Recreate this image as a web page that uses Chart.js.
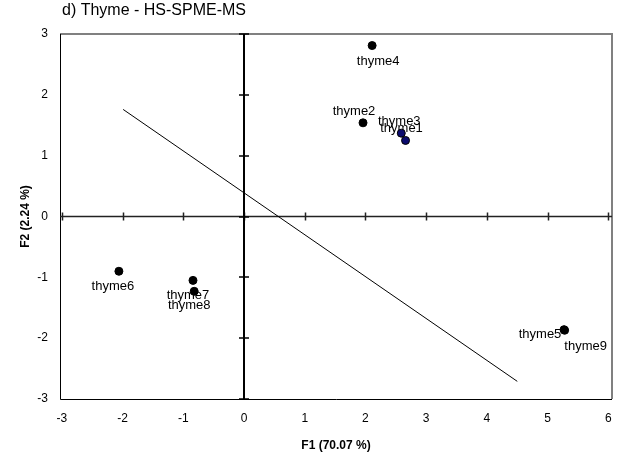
<!DOCTYPE html>
<html>
<head>
<meta charset="utf-8">
<title>Thyme - HS-SPME-MS</title>
<script src="https://cdn.jsdelivr.net/npm/chart.js@4.4.1/dist/chart.umd.min.js"></script>
<style>
  html, body { margin: 0; padding: 0; background: #fff; }
  #wrap { width: 618px; height: 462px; }
</style>
</head>
<body>
<div id="wrap"><canvas id="pca" width="618" height="462"></canvas></div>
<script>
// sample scores on the first two factors
var samples = ['thyme1', 'thyme2', 'thyme3', 'thyme4', 'thyme5', 'thyme6', 'thyme7', 'thyme8', 'thyme9'];
var f1 = [2.66, 1.96, 2.59, 2.11, 5.27, -2.06, -0.84, -0.82, 5.28];
var f2 = [1.25, 1.54, 1.37, 2.81, -1.86, -0.90, -1.05, -1.23, -1.87];

// separating line end points
var lineF1 = [-1.99, 4.50];
var lineF2 = [1.76, -2.71];

var xTicks = [-3, -2, -1, 0, 1, 2, 3, 4, 5, 6];
var yTicks = [-3, -2, -1, 0, 1, 2, 3];

// where each name sits relative to its point (px)
var labelShift = {
  thyme1: [-4, -12], thyme2: [-9, -11], thyme3: [-2, -12],
  thyme4: [6, 16], thyme5: [-24, 5], thyme6: [-6, 15],
  thyme7: [-5, 15], thyme8: [-5, 14], thyme9: [21, 16]
};
var pointFill = samples.map(function(s) {
  return (s === 'thyme1' || s === 'thyme3') ? '#0a0a6e' : '#000';
});

var FONT = '"Liberation Sans", Arial, sans-serif';

var pcaPlugin = {
  id: 'pcaFrame',
  beforeDatasetsDraw: function(chart) {
    var c = chart.ctx, a = chart.chartArea;
    var xs = chart.scales.x, ys = chart.scales.y;
    var x0 = xs.getPixelForValue(0), y0 = ys.getPixelForValue(0);
    c.save();
    // plot frame: light top/right, dark left/bottom
    c.strokeStyle = '#808080';
    c.lineWidth = 2;
    c.beginPath();
    c.moveTo(a.left, a.top); c.lineTo(a.right, a.top); c.lineTo(a.right, a.bottom);
    c.stroke();
    c.strokeStyle = '#000';
    c.lineWidth = 1;
    c.beginPath();
    c.moveTo(a.left + 0.5, a.top); c.lineTo(a.left + 0.5, a.bottom + 0.5); c.lineTo(a.right, a.bottom + 0.5);
    c.stroke();

    // horizontal axis through zero
    c.strokeStyle = '#222';
    c.lineWidth = 1.5;
    c.beginPath();
    c.moveTo(a.left, y0); c.lineTo(a.right, y0);
    xTicks.forEach(function(v) {
      var px = Math.round(xs.getPixelForValue(v)) + 0.5;
      c.moveTo(px, y0 - 4); c.lineTo(px, y0 + 4);
    });
    c.stroke();

    // vertical axis through zero
    c.strokeStyle = '#000';
    c.lineWidth = 2;
    c.beginPath();
    c.moveTo(x0, a.top); c.lineTo(x0, a.bottom);
    c.stroke();
    c.lineWidth = 1.5;
    c.beginPath();
    yTicks.forEach(function(v) {
      var py = Math.round(ys.getPixelForValue(v));
      c.moveTo(x0 - 5, py); c.lineTo(x0 + 5, py);
    });
    c.stroke();

    // sample names
    var meta = chart.getDatasetMeta(0);
    c.fillStyle = '#000';
    c.font = '13px ' + FONT;
    c.textAlign = 'center';
    c.textBaseline = 'middle';
    meta.data.forEach(function(pt, i) {
      var d = labelShift[samples[i]];
      c.fillText(samples[i], pt.x + d[0], pt.y + d[1]);
    });

    // chart heading
    c.font = '16px ' + FONT;
    c.textAlign = 'left';
    c.fillText('d) Thyme - HS-SPME-MS', 62, 11);
    c.restore();
  }
};

var ctx = document.getElementById('pca');

var chart = new Chart(ctx, {
  type: 'scatter',
  data: {
    datasets: [{
      data: samples.map(function(s, i) { return { x: f1[i], y: f2[i] }; }),
      pointRadius: 4,
      pointHoverRadius: 4,
      pointBackgroundColor: pointFill,
      pointBorderColor: '#000',
      pointBorderWidth: 1,
      showLine: false,
      order: 0
    }, {
      data: lineF1.map(function(v, i) { return { x: v, y: lineF2[i] }; }),
      showLine: true,
      borderColor: '#000',
      borderWidth: 1,
      pointRadius: 0,
      fill: false,
      order: 1
    }]
  },
  options: {
    responsive: false,
    animation: false,
    layout: { padding: { top: 34, right: 6, left: 0, bottom: 0 } },
    plugins: {
      legend: { display: false },
      tooltip: { enabled: false }
    },
    scales: {
      x: {
        type: 'linear',
        min: -3.03,
        max: 6.06,
        afterBuildTicks: function(s) { s.ticks = xTicks.map(function(v) { return { value: v }; }); },
        afterFit: function(s) { s.height = 63; s.paddingLeft = 0; s.paddingRight = 0; },
        grid: { display: false, drawTicks: false },
        border: { display: false },
        ticks: { color: '#000', padding: 12, font: { family: FONT, size: 12 } },
        title: {
          display: true,
          text: 'F1 (70.07 %)',
          color: '#000',
          font: { family: FONT, size: 12, weight: 'bold' },
          padding: { top: 0, bottom: 9 }
        }
      },
      y: {
        type: 'linear',
        min: -3,
        max: 3,
        afterBuildTicks: function(s) { s.ticks = yTicks.map(function(v) { return { value: v }; }); },
        afterFit: function(s) { s.width = 60; s.paddingTop = 0; s.paddingBottom = 0; },
        grid: { display: false, drawTicks: false },
        border: { display: false },
        ticks: { color: '#000', padding: 12, font: { family: FONT, size: 12 } },
        title: {
          display: true,
          text: 'F2 (2.24 %)',
          color: '#000',
          font: { family: FONT, size: 12, weight: 'bold' },
          padding: { top: 18, bottom: 0 }
        }
      }
    }
  },
  plugins: [pcaPlugin]
});
</script>
</body>
</html>
